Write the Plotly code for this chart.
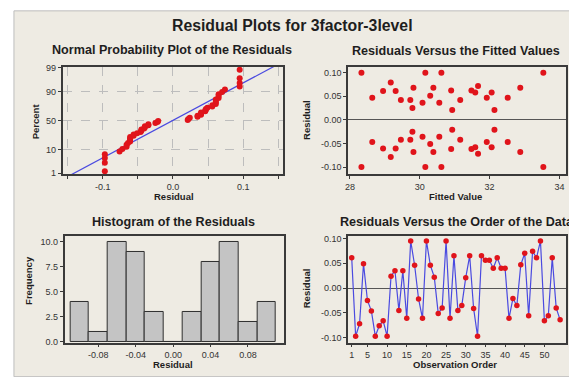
import plotly.graph_objects as go
from statistics import NormalDist, mean, pstdev

W, H = 569, 377

# ---------------- data ----------------
# Residuals in observation order (54 runs)
order_resid = [0.061, -0.097, -0.072, 0.049, -0.025, -0.046, -0.097, -0.076, -0.066, -0.097,
               0.024, 0.035, -0.045, 0.035, -0.061, 0.095, 0.046, -0.022, -0.061, 0.095,
               0.046, 0.022, -0.051, -0.040, 0.095, -0.061, 0.065, -0.045, -0.035, 0.021,
               0.065, -0.041, -0.097, 0.065, 0.056, 0.056, 0.040, 0.061, 0.040, 0.040,
               -0.061, -0.021, -0.035, 0.047, 0.070, -0.056, 0.074, 0.061, 0.095, -0.066,
               -0.056, 0.061, -0.040, -0.064]
observation = list(range(1, len(order_resid) + 1))

# Residuals versus fitted values (27 fitted values, each with a + and - residual)
fitted_vals = [28.33, 28.64, 28.95, 29.17, 29.31, 29.46, 29.73, 29.79, 29.82, 30.08,
               30.16, 30.30, 30.39, 30.56, 30.62, 30.90, 30.93, 31.16, 31.48, 31.59,
               31.67, 31.92, 32.06, 32.14, 32.52, 32.88, 33.54]
resid_upper = [0.100, 0.047, 0.061, 0.079, 0.061, 0.042, 0.042, 0.025, 0.068, 0.036,
               0.100, 0.051, 0.068, 0.036, 0.100, 0.062, 0.021, 0.042, 0.062, 0.058,
               0.072, 0.047, 0.058, 0.021, 0.047, 0.068, 0.100]
resid_lower = [-0.100, -0.047, -0.061, -0.079, -0.061, -0.042, -0.042, -0.025, -0.068, -0.036,
               -0.100, -0.051, -0.068, -0.036, -0.100, -0.062, -0.021, -0.042, -0.062, -0.058,
               -0.072, -0.047, -0.058, -0.021, -0.047, -0.068, -0.100]

# Histogram of residuals
hist_centers = [-0.10, -0.08, -0.06, -0.04, -0.02, 0.00, 0.02, 0.04, 0.06, 0.08, 0.10]
hist_counts = [4, 1, 10, 9, 3, 0, 3, 8, 10, 2, 4]

# Tick labels
prob_pct = [1, 10, 50, 90, 99]
prob_pct_text = ['1', '10', '50', '90', '99']
np_x_ticks = [-0.1, 0.0, 0.1]
np_x_text = ['-0.1', '0.0', '0.1']
resid_ticks = [-0.10, -0.05, 0.0, 0.05, 0.10]
resid_text = ['-0.10', '-0.05', '0.00', '0.05', '0.10']
fit_ticks = [28, 30, 32, 34]
hist_x_ticks = [-0.08, -0.04, 0.0, 0.04, 0.08]
hist_x_text = ['-0.08', '-0.04', '0.00', '0.04', '0.08']
hist_y_ticks = [0, 2.5, 5, 7.5, 10]
hist_y_text = ['0.0', '2.5', '5.0', '7.5', '10.0']
order_ticks = [1, 5, 10, 15, 20, 25, 30, 35, 40, 45, 50]

# ---------------- derived (normal probability) ----------------
nd = NormalDist()
srt = sorted(order_resid)
n = len(srt)
np_z = [nd.inv_cdf((i + 1 - 0.3) / (n + 0.4)) for i in range(n)]
mu, sd = mean(order_resid), pstdev(order_resid)
line_z = [-2.5, 2.5]
line_x = [mu + sd * z for z in line_z]
pct_z = [nd.inv_cdf(p / 100) for p in prob_pct]

RED = '#E0141B'
BLUE = '#4A4AE0'
FONT = 'Liberation Sans'

fig = go.Figure()

# Panel 1: normal probability plot
fig.add_trace(go.Scatter(x=line_x, y=line_z, mode='lines', line=dict(color=BLUE, width=1.2),
                         xaxis='x', yaxis='y', hoverinfo='skip'))
fig.add_trace(go.Scatter(x=srt, y=np_z, mode='markers', marker=dict(color=RED, size=6),
                         xaxis='x', yaxis='y'))

# Panel 2: residuals vs fitted
fig.add_trace(go.Scatter(x=fitted_vals + fitted_vals, y=resid_upper + resid_lower, mode='markers',
                         marker=dict(color=RED, size=6), xaxis='x2', yaxis='y2'))

# Panel 3: histogram
fig.add_trace(go.Bar(x=hist_centers, y=hist_counts, width=0.02,
                     marker=dict(color='#C4C4C4', line=dict(color='#2E2E2E', width=1)),
                     xaxis='x3', yaxis='y3'))

# Panel 4: residuals vs order
fig.add_trace(go.Scatter(x=observation, y=order_resid, mode='lines+markers',
                         line=dict(color=BLUE, width=1.2),
                         marker=dict(color=RED, size=5.5), xaxis='x4', yaxis='y4'))


def px_x(p):
    return p / W


def px_y(p):
    return 1 - p / H


base = dict(showline=True, mirror=True, linecolor='#3A3A3A', linewidth=1.5,
            ticks='outside', ticklen=3, tickcolor='#3A3A3A',
            tickfont=dict(size=9, color='#333333', family=FONT),
            showgrid=False, zeroline=False, fixedrange=True)

top_dom = [px_y(174), px_y(64)]
bot_dom = [px_y(346), px_y(237)]
left_dom = [px_x(60), px_x(281)]
right_dom = [px_x(347), px_x(566)]
left_dom3 = [px_x(62), px_x(282)]

grid = dict(showgrid=True, gridcolor='#BDBDBD', griddash='dash', gridwidth=1)

fig.update_layout(
    width=W, height=H,
    margin=dict(l=0, r=0, t=0, b=0),
    paper_bgcolor='white', plot_bgcolor='white',
    showlegend=False,
    bargap=0,
    xaxis=dict(base, domain=left_dom, anchor='y', range=[-0.157, 0.156],
               tickvals=np_x_ticks, ticktext=np_x_text, **grid,
               minor=dict(tickvals=[-0.15, -0.05, 0.05, 0.15], showgrid=True,
                          gridcolor='#BDBDBD', griddash='dash', ticks='outside',
                          ticklen=3, tickcolor='#3A3A3A')),
    yaxis=dict(base, domain=top_dom, anchor='x', range=[-2.37, 2.37],
               tickvals=pct_z, ticktext=prob_pct_text, **grid),
    xaxis2=dict(base, domain=right_dom, anchor='y2', range=[27.95, 34.19],
                tickvals=fit_ticks),
    yaxis2=dict(base, domain=top_dom, anchor='x2', range=[-0.1155, 0.1128],
                tickvals=resid_ticks, ticktext=resid_text,
                zeroline=True, zerolinecolor='#555555', zerolinewidth=1),
    xaxis3=dict(base, domain=left_dom3, anchor='y3', range=[-0.116, 0.118],
                tickvals=hist_x_ticks, ticktext=hist_x_text),
    yaxis3=dict(base, domain=bot_dom, anchor='x3', range=[-0.1, 10.55],
                tickvals=hist_y_ticks, ticktext=hist_y_text),
    xaxis4=dict(base, domain=right_dom, anchor='y4', range=[0.1, 55.5],
                tickvals=order_ticks),
    yaxis4=dict(base, domain=bot_dom, anchor='x4', range=[-0.11, 0.105],
                tickvals=resid_ticks, ticktext=resid_text,
                zeroline=True, zerolinecolor='#555555', zerolinewidth=1),
    shapes=[dict(type='rect', xref='paper', yref='paper', x0=px_x(11), x1=1.01,
                 y0=-0.01, y1=px_y(7), fillcolor='#EEEBE3',
                 line=dict(color='#BDBDBD', width=1), layer='below')],
)


def ann(text, x, y, size, angle=0, xanchor='center'):
    fig.add_annotation(text=text, x=px_x(x), y=px_y(y), xref='paper', yref='paper',
                       showarrow=False, xanchor=xanchor, yanchor='middle', textangle=angle,
                       font=dict(family=FONT, size=size, color='#1E1E1E'))


ann('<b>Residual Plots for 3factor-3level</b>', 291, 22, 15.8)
ann('<b>Normal Probability Plot of the Residuals</b>', 170, 47, 12.6)
ann('<b>Residuals Versus the Fitted Values</b>', 455, 48, 12.6)
ann('<b>Histogram of the Residuals</b>', 171, 223, 12.6)
ann('<b>Residuals Versus the Order of the Data</b>', 337, 223, 12.6, xanchor='left')
ann('<b>Residual</b>', 172, 196.5, 9.5)
ann('<b>Fitted Value</b>', 455, 196.5, 9.5)
ann('<b>Residual</b>', 171, 368.5, 9.5)
ann('<b>Observation Order</b>', 454, 368.5, 9.5)
ann('<b>Percent</b>', 33, 120, 9.5, angle=-90)
ann('<b>Residual</b>', 305, 118, 9.5, angle=-90)
ann('<b>Frequency</b>', 25, 282, 9.5, angle=-90)
ann('<b>Residual</b>', 305, 290, 9.5, angle=-90)

fig.write_html('out.html', config={'displayModeBar': False},
               post_script="document.body.style.margin='0';document.body.style.overflow='hidden';")
